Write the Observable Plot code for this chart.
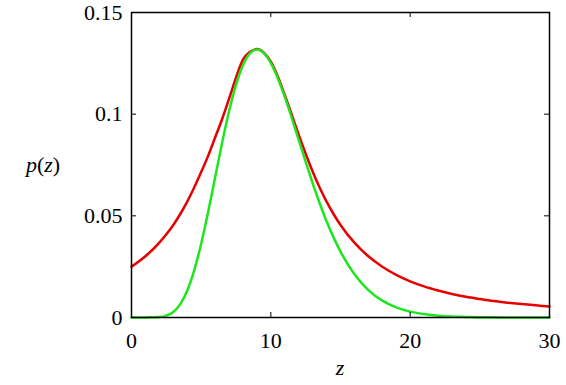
<!DOCTYPE html>
<html>
<head>
<meta charset="utf-8">
<script src="https://cdn.jsdelivr.net/npm/d3@7"></script>
<script src="https://cdn.jsdelivr.net/npm/@observablehq/plot@0.6"></script>
<style>
  html, body { margin: 0; padding: 0; background: #fff; font-family: "Liberation Serif", serif; }
  #chart { width: 566px; height: 385px; }
</style>
</head>
<body>
<div id="chart"></div>
<script>
// z grid
const zValues = [0,1,2,2.5,3,3.5,4,4.5,5,5.5,6,6.5,7,7.5,8,8.5,9,9.5,10,10.5,11,11.5,12,12.5,13,13.5,14,14.5,15,16,17,18,19,20,21,22,23,24,25,26,27,28,29,30];
// red curve (envelope)
const redValues = [0.0250,0.0301,0.0368,0.0409,0.0455,0.0509,0.0570,0.0639,0.0715,0.0795,0.0885,0.0975,0.1075,0.1180,0.1268,0.1306,0.1320,0.1303,0.1258,0.1185,0.1094,0.0998,0.0899,0.0805,0.0718,0.0639,0.0570,0.0509,0.0455,0.0368,0.0301,0.0250,0.0210,0.0178,0.0153,0.0133,0.0116,0.0102,0.0091,0.0081,0.0073,0.0066,0.0060,0.0054];
// green curve (target density)
const greenValues = [0,0,0.0002,0.0009,0.0027,0.0066,0.0132,0.0232,0.0363,0.0519,0.0688,0.0858,0.1014,0.1144,0.1241,0.1299,0.1318,0.1300,0.1251,0.1177,0.1085,0.0982,0.0874,0.0765,0.0661,0.0563,0.0473,0.0394,0.0324,0.0213,0.0135,0.0083,0.0050,0.0029,0.0017,0.0009,0.0005,0.0003,0.0001,0.0001,0,0,0,0];

const xTicks = [0, 10, 20, 30];
const yTicks = [0, 0.05, 0.1, 0.15];
const yTickLabels = ["0", "0.05", "0.1", "0.15"];
const xLabel = "z";

const redData = zValues.map((z, i) => ({z, p: redValues[i]}));
const greenData = zValues.map((z, i) => ({z, p: greenValues[i]}));

const W = 566, H = 385;
const mL = 131, mR = 17, mT = 12, mB = 68;
const fw = W - mL - mR, fh = H - mT - mB;
const tickLen = 5;
const serif = "Liberation Serif";

const plot = Plot.plot({
  width: W,
  height: H,
  marginLeft: mL,
  marginRight: mR,
  marginTop: mT,
  marginBottom: mB,
  style: {background: "#fff", color: "#000"},
  x: {domain: [0, 30]},
  y: {domain: [0, 0.15]},
  marks: [
    Plot.line(redData, {x: "z", y: "p", stroke: "#e60000", strokeWidth: 2.5, curve: "monotone-x"}),
    Plot.line(greenData, {x: "z", y: "p", stroke: "#1ee61e", strokeWidth: 2.5, curve: "monotone-x"}),
    Plot.tickX(xTicks, {x: d => d, insetTop: fh - tickLen, stroke: "#000", strokeWidth: 1}),
    Plot.tickX(xTicks, {x: d => d, insetBottom: fh - tickLen, stroke: "#000", strokeWidth: 1}),
    Plot.tickY(yTicks, {y: d => d, insetRight: fw - tickLen, stroke: "#000", strokeWidth: 1}),
    Plot.tickY(yTicks, {y: d => d, insetLeft: fw - tickLen, stroke: "#000", strokeWidth: 1}),
    Plot.frame({stroke: "#000", strokeWidth: 1.5}),
    Plot.axisX({ticks: xTicks, tickSize: 0, tickPadding: 15, label: null, fontSize: 22}),
    Plot.axisY({ticks: yTicks, tickSize: 0, tickPadding: 9, label: null, fontSize: 22,
      tickFormat: d => yTickLabels[yTicks.indexOf(d)]})
  ]
});
document.getElementById("chart").appendChild(plot);

// axis titles with mixed italic math styling
const svg = d3.select(plot);
const yl = svg.append("text")
  .attr("x", 43).attr("y", (mT + H - mB) / 2 + 7)
  .attr("text-anchor", "middle")
  .attr("font-size", 22)
  .attr("fill", "#000");
yl.append("tspan").attr("font-style", "italic").text("p");
yl.append("tspan").text("(");
yl.append("tspan").attr("font-style", "italic").text("z");
yl.append("tspan").text(")");

svg.append("text")
  .attr("x", mL + fw / 2).attr("y", 375)
  .attr("text-anchor", "middle")
  .attr("font-size", 22)
  .attr("font-style", "italic")
  .attr("fill", "#000")
  .text(xLabel);

// force the serif face on every text element (inline style beats attributes)
svg.attr("font-family", serif).style("font-family", serif);
svg.selectAll("g").attr("font-family", null);
svg.selectAll("text, tspan").style("font-family", serif).attr("font-family", serif);
svg.selectAll("g[aria-label*='tick label'] text, g[aria-label*='tick label']").style("font-size", "22px");
</script>
</body>
</html>
